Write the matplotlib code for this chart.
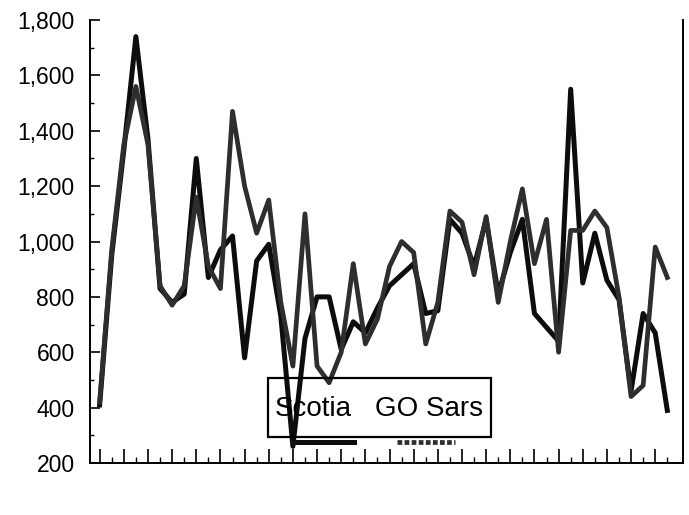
import numpy as np
import matplotlib
matplotlib.use("Agg")
import matplotlib.pyplot as plt
from matplotlib.lines import Line2D
from matplotlib.patches import Rectangle
from matplotlib.ticker import FuncFormatter, MultipleLocator

plt.rcParams['font.family'] = ['Liberation Sans', 'DejaVu Sans']

# values (48 points, no x labels)
scotia = [410, 950, 1330, 1740, 1370, 830, 780, 810, 1300, 870,
          970, 1020, 580, 930, 990, 730, 260, 650, 800, 800,
          610, 710, 670, 760, 840, 880, 920, 740, 750, 1080,
          1030, 910, 1080, 810, 960, 1080, 740, 690, 640, 1550,
          850, 1030, 860, 790, 460, 740, 670, 390]
go_sars = [420, 970, 1350, 1560, 1350, 840, 770, 840, 1160, 910,
           830, 1470, 1200, 1030, 1150, 780, 550, 1100, 550, 490,
           600, 920, 630, 720, 910, 1000, 960, 630, 780, 1110,
           1070, 880, 1090, 780, 1000, 1190, 920, 1080, 600, 1040,
           1040, 1110, 1050, 800, 440, 480, 980, 870]
series_names = ["Scotia", "GO Sars"]
y_ticks = [200, 400, 600, 800, 1000, 1200, 1400, 1600, 1800]

x = np.arange(len(scotia))

fig = plt.figure(figsize=(6.89, 5.15), dpi=100)
ax = fig.add_axes([90 / 689, 1 - 463 / 515, 593 / 689, 443 / 515])

ax.plot(x, scotia, color="#0d0d0d", lw=3.6)
ax.plot(x, go_sars, color="#2e2e2e", lw=3.4)

ax.set_xlim(-0.8, 48.3)
ax.set_ylim(200, 1800)

ax.set_yticks(y_ticks)
ax.yaxis.set_minor_locator(MultipleLocator(100))
ax.yaxis.set_major_formatter(FuncFormatter(lambda v, p: f"{int(v):,}"))
ax.set_xticks(x[::2])
ax.set_xticks(x[1::2], minor=True)
ax.set_xticklabels([])

ax.tick_params(axis="y", which="major", direction="in", length=7, width=1.2,
               labelsize=16.5, pad=11)
ax.tick_params(axis="y", which="minor", direction="in", length=3, width=1.0)
ax.tick_params(axis="x", which="major", direction="in", length=10, width=1.2)
ax.tick_params(axis="x", which="minor", direction="in", length=4, width=1.0)

ax.spines["top"].set_visible(False)
for s in ["left", "bottom", "right"]:
    ax.spines[s].set_linewidth(1.4)

# legend: names above their line samples, in a plain box
box = Rectangle((0.300, 0.059), 0.376, 0.133, transform=ax.transAxes,
                fill=False, edgecolor="black", lw=1.6, zorder=3)
ax.add_patch(box)
ax.text(0.312, 0.122, series_names[0], transform=ax.transAxes,
        fontsize=20, va="center", ha="left", zorder=4)
ax.text(0.481, 0.122, series_names[1], transform=ax.transAxes,
        fontsize=20, va="center", ha="left", zorder=4)
ax.add_line(Line2D([0.349, 0.446], [0.0475, 0.0475], transform=ax.transAxes,
                   color="#0d0d0d", lw=3.6))
ax.add_line(Line2D([0.518, 0.616], [0.0475, 0.0475], transform=ax.transAxes,
                   color="#2e2e2e", lw=3.4, ls=(0, (1, 0.5))))

fig.savefig("out.png", dpi=100)
